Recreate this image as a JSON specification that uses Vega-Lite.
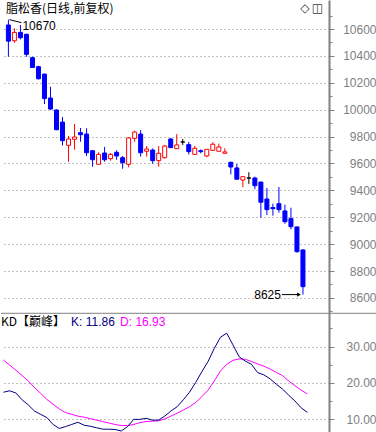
{
  "$schema": "https://vega.github.io/schema/vega-lite/v6.json",
  "padding": 0,
  "background": "#ffffff",
  "config": {"view": {"stroke": null}, "font": "Liberation Sans"},
  "spacing": 0,
  "bounds": "flush",
  "datasets": {
    "k": [
      {"i":0,"o":10630,"h":10670,"l":10395,"c":10510,"k":17.4,"d":26.3},
      {"i":1,"o":10513,"h":10605,"l":10498,"c":10575,"k":17.8,"d":24.9},
      {"i":2,"o":10575,"h":10630,"l":10523,"c":10535,"k":17.2,"d":23.5},
      {"i":3,"o":10561,"h":10565,"l":10394,"c":10412,"k":15.3,"d":22.0},
      {"i":4,"o":10387,"h":10394,"l":10312,"c":10314,"k":13.9,"d":20.5},
      {"i":5,"o":10320,"h":10327,"l":10225,"c":10230,"k":12.2,"d":18.7},
      {"i":6,"o":10265,"h":10268,"l":10042,"c":10083,"k":11.3,"d":17.1},
      {"i":7,"o":10087,"h":10171,"l":9998,"c":10005,"k":10.4,"d":15.4},
      {"i":8,"o":9998,"h":10002,"l":9848,"c":9851,"k":8.5,"d":14.1},
      {"i":9,"o":9908,"h":9946,"l":9735,"c":9770,"k":7.4,"d":12.8},
      {"i":10,"o":9735,"h":9804,"l":9613,"c":9782,"k":7.9,"d":11.8},
      {"i":11,"o":9780,"h":9894,"l":9703,"c":9797,"k":8.5,"d":11.3},
      {"i":12,"o":9829,"h":9864,"l":9762,"c":9814,"k":9.1,"d":10.8},
      {"i":13,"o":9819,"h":9862,"l":9656,"c":9680,"k":8.3,"d":10.5},
      {"i":14,"o":9695,"h":9697,"l":9576,"c":9628,"k":8.0,"d":10.1},
      {"i":15,"o":9594,"h":9683,"l":9594,"c":9668,"k":7.6,"d":9.7},
      {"i":16,"o":9678,"h":9723,"l":9613,"c":9628,"k":7.2,"d":9.3},
      {"i":17,"o":9636,"h":9678,"l":9621,"c":9668,"k":7.2,"d":8.9},
      {"i":18,"o":9683,"h":9698,"l":9628,"c":9656,"k":7.1,"d":8.5},
      {"i":19,"o":9643,"h":9656,"l":9561,"c":9606,"k":6.7,"d":8.2},
      {"i":20,"o":9594,"h":9797,"l":9572,"c":9790,"k":7.9,"d":8.2},
      {"i":21,"o":9787,"h":9844,"l":9762,"c":9834,"k":9.9,"d":8.5},
      {"i":22,"o":9819,"h":9849,"l":9651,"c":9680,"k":9.9,"d":9.0},
      {"i":23,"o":9691,"h":9730,"l":9651,"c":9708,"k":10.2,"d":9.3},
      {"i":24,"o":9700,"h":9712,"l":9599,"c":9621,"k":9.7,"d":9.4},
      {"i":25,"o":9621,"h":9730,"l":9576,"c":9676,"k":9.7,"d":9.5},
      {"i":26,"o":9643,"h":9738,"l":9636,"c":9730,"k":10.8,"d":10.0},
      {"i":27,"o":9782,"h":9790,"l":9718,"c":9718,"k":12.2,"d":10.8},
      {"i":28,"o":9710,"h":9819,"l":9710,"c":9738,"k":13.4,"d":11.6},
      {"i":29,"o":9760,"h":9782,"l":9738,"c":9760,"k":15.3,"d":12.5},
      {"i":30,"o":9740,"h":9760,"l":9667,"c":9688,"k":17.4,"d":13.4},
      {"i":31,"o":9668,"h":9730,"l":9668,"c":9713,"k":20.1,"d":14.6},
      {"i":32,"o":9695,"h":9705,"l":9676,"c":9688,"k":23.1,"d":16.2},
      {"i":33,"o":9656,"h":9705,"l":9646,"c":9705,"k":25.9,"d":18.0},
      {"i":34,"o":9698,"h":9758,"l":9698,"c":9743,"k":29.5,"d":20.5},
      {"i":35,"o":9691,"h":9747,"l":9691,"c":9723,"k":32.6,"d":23.3},
      {"i":36,"o":9676,"h":9713,"l":9676,"c":9686,"k":33.7,"d":25.1},
      {"i":37,"o":9609,"h":9613,"l":9520,"c":9574,"k":30.5,"d":26.2},
      {"i":38,"o":9567,"h":9598,"l":9483,"c":9483,"k":27.2,"d":26.6},
      {"i":39,"o":9477,"h":9502,"l":9423,"c":9502,"k":26.0,"d":26.5},
      {"i":40,"o":9492,"h":9535,"l":9448,"c":9492,"k":25.1,"d":25.9},
      {"i":41,"o":9492,"h":9502,"l":9408,"c":9435,"k":22.8,"d":25.2},
      {"i":42,"o":9462,"h":9464,"l":9197,"c":9312,"k":22.2,"d":24.6},
      {"i":43,"o":9336,"h":9418,"l":9217,"c":9257,"k":21.1,"d":23.8},
      {"i":44,"o":9272,"h":9301,"l":9212,"c":9264,"k":19.6,"d":22.9},
      {"i":45,"o":9301,"h":9425,"l":9234,"c":9257,"k":18.3,"d":22.0},
      {"i":46,"o":9247,"h":9294,"l":9152,"c":9167,"k":16.6,"d":20.5},
      {"i":47,"o":9190,"h":9271,"l":9111,"c":9130,"k":15.0,"d":19.2},
      {"i":48,"o":9128,"h":9130,"l":8937,"c":8944,"k":13.1,"d":18.0},
      {"i":49,"o":8957,"h":8960,"l":8625,"c":8684,"k":11.86,"d":16.93}
    ]
  },
  "vconcat": [
    {
      "width": 328,
      "height": 313,
      "data": {"name": "k"},
      "layer": [
        {
          "mark": {"type": "bar", "width": 4, "strokeWidth": 1, "opacity": 0},
          "encoding": {
            "x": {"field": "i", "type": "quantitative", "scale": {"domain": [-0.4, 52.5], "nice": false, "zero": false}, "axis": null},
            "y": {
              "field": "o", "type": "quantitative",
              "scale": {"domain": [8488, 10816], "nice": false, "zero": false},
              "axis": {
                "orient": "right", "title": null,
                "values": [8500,8600,8700,8800,8900,9000,9100,9200,9300,9400,9500,9600,9700,9800,9900,10000,10100,10200,10300,10400,10500,10600,10700],
                "tickCount": 100,
                "format": "d",
                "labelExpr": "datum.value % 200 === 0 ? datum.label : ''",
                "labelColor": "#808080", "labelFontSize": 12, "labelAlign": "right", "labelBaseline": "middle",
                "labelPadding": 42, "labelOverlap": false, "labelFlush": false,
                "domainColor": "#808080", "domainWidth": 2,
                "tickColor": "#808080",
                "tickSize": {"condition": {"test": "datum.value % 200 === 0", "value": 5}, "value": 3},
                "grid": true, "gridColor": "#808080", "gridDash": [1, 3],
                "gridOpacity": {"condition": {"test": "datum.value % 200 === 0", "value": 1}, "value": 0}
              }
            }
          }
        },
        {
          "mark": {"type": "rule", "strokeWidth": 1},
          "encoding": {
            "x": {"field": "i", "type": "quantitative"},
            "y": {"field": "l", "type": "quantitative"},
            "y2": {"field": "h"},
            "color": {"condition": [{"test": "datum.c > datum.o", "value": "#ff0000"}, {"test": "datum.c < datum.o", "value": "#0000ff"}], "value": "#000000"}
          }
        },
        {
          "mark": {"type": "bar", "width": 4, "strokeWidth": 1},
          "encoding": {
            "x": {"field": "i", "type": "quantitative"},
            "y": {"field": "o", "type": "quantitative"},
            "y2": {"field": "c"},
            "fill": {"condition": [{"test": "datum.c > datum.o", "value": "#ffffff"}, {"test": "datum.c < datum.o", "value": "#0000ff"}], "value": "#000000"},
            "stroke": {"condition": [{"test": "datum.c > datum.o", "value": "#ff0000"}, {"test": "datum.c < datum.o", "value": "#0000ff"}], "value": "#000000"}
          }
        },
        {
          "transform": [{"filter": "datum.i === 0"}],
          "mark": {"type": "text", "align": "left", "baseline": "middle", "dx": 14, "dy": 6, "fontSize": 12, "color": "#000000"},
          "encoding": {"x": {"field": "i", "type": "quantitative"}, "y": {"field": "h", "type": "quantitative"}, "text": {"field": "h", "format": "d"}}
        },
        {
          "transform": [{"filter": "datum.i === 0"}],
          "mark": {"type": "rule", "color": "#000000", "strokeWidth": 1, "xOffset": 1, "x2Offset": 13, "y2Offset": 3},
          "encoding": {"x": {"field": "i", "type": "quantitative"}, "y": {"field": "h", "type": "quantitative"}, "x2": {"field": "i"}, "y2": {"field": "h"}}
        },
        {
          "transform": [{"filter": "datum.i === 49"}],
          "mark": {"type": "text", "align": "right", "baseline": "middle", "dx": -22, "dy": 0, "fontSize": 12, "color": "#000000"},
          "encoding": {"x": {"field": "i", "type": "quantitative"}, "y": {"field": "l", "type": "quantitative"}, "text": {"field": "l", "format": "d"}}
        },
        {
          "transform": [{"filter": "datum.i === 49"}],
          "mark": {"type": "rule", "color": "#000000", "strokeWidth": 1, "xOffset": -21, "x2Offset": -3},
          "encoding": {"x": {"field": "i", "type": "quantitative"}, "y": {"field": "l", "type": "quantitative"}, "x2": {"field": "i"}, "y2": {"field": "l"}}
        },
        {
          "transform": [{"filter": "datum.i === 49"}],
          "mark": {"type": "point", "shape": "triangle-right", "filled": true, "color": "#000000", "size": 18, "xOffset": -4, "opacity": 1},
          "encoding": {"x": {"field": "i", "type": "quantitative"}, "y": {"field": "l", "type": "quantitative"}}
        },
        {
          "transform": [{"filter": "datum.i === 0"}],
          "mark": {"type": "text", "align": "left", "baseline": "middle", "font": "Noto Sans CJK SC", "fontSize": 12, "color": "#000000"},
          "encoding": {"x": {"datum": -0.4, "type": "quantitative"}, "y": {"datum": 10752, "type": "quantitative"}, "text": {"value": "脂松香(日线,前复权)"}}
        },
        {
          "transform": [{"filter": "datum.i === 0"}],
          "mark": {"type": "text", "align": "center", "baseline": "middle", "font": "DejaVu Sans", "fontSize": 12, "color": "#404040"},
          "encoding": {"x": {"datum": 49.3, "type": "quantitative"}, "y": {"datum": 10756, "type": "quantitative"}, "text": {"value": "◇"}}
        },
        {
          "transform": [{"filter": "datum.i === 0"}],
          "mark": {"type": "text", "align": "center", "baseline": "middle", "font": "DejaVu Sans", "fontSize": 12, "color": "#404040"},
          "encoding": {"x": {"datum": 51.4, "type": "quantitative"}, "y": {"datum": 10756, "type": "quantitative"}, "text": {"value": "◫"}}
        }
      ]
    },
    {
      "width": 328,
      "height": 119,
      "data": {"name": "k"},
      "layer": [
        {
          "mark": {"type": "line", "color": "#ff00ff", "strokeWidth": 1},
          "encoding": {
            "x": {"field": "i", "type": "quantitative", "scale": {"domain": [-0.4, 52.5], "nice": false, "zero": false}, "axis": null},
            "y": {
              "field": "d", "type": "quantitative",
              "scale": {"domain": [6.42, 39.28], "nice": false, "zero": false},
              "axis": {
                "orient": "right", "title": null,
                "values": [10, 15, 20, 25, 30, 35],
                "tickCount": 100,
                "format": ".2f",
                "labelExpr": "datum.value % 10 === 0 ? datum.label : ''",
                "labelColor": "#808080", "labelFontSize": 12, "labelAlign": "right", "labelBaseline": "middle",
                "labelPadding": 42, "labelOverlap": false, "labelFlush": false,
                "domainColor": "#808080", "domainWidth": 2,
                "tickColor": "#808080",
                "tickSize": {"condition": {"test": "datum.value % 10 === 0", "value": 5}, "value": 3},
                "grid": true, "gridColor": "#808080", "gridDash": [1, 3],
                "gridOpacity": {"condition": {"test": "datum.value % 10 === 0", "value": 1}, "value": 0}
              }
            }
          }
        },
        {
          "mark": {"type": "line", "color": "#000080", "strokeWidth": 1},
          "encoding": {"x": {"field": "i", "type": "quantitative"}, "y": {"field": "k", "type": "quantitative"}}
        },
        {
          "transform": [{"filter": "datum.i === 0"}],
          "mark": {"type": "rule", "color": "#808080", "strokeWidth": 1, "clip": false},
          "encoding": {"x": {"datum": -0.4, "type": "quantitative"}, "x2": {"datum": 60.3}, "y": {"datum": 39.2, "type": "quantitative"}}
        },
        {
          "transform": [{"filter": "datum.i === 0"}],
          "mark": {"type": "text", "align": "left", "baseline": "middle", "font": "Noto Sans CJK SC", "fontSize": 12, "color": "#000000"},
          "encoding": {"x": {"datum": -0.4, "type": "quantitative"}, "y": {"datum": 36.9, "type": "quantitative"}, "text": {"value": "KD【巅峰】"}}
        },
        {
          "transform": [{"filter": "datum.i === 0"}],
          "mark": {"type": "text", "align": "left", "baseline": "middle", "fontSize": 12, "color": "#000080"},
          "encoding": {"x": {"datum": 10.9, "type": "quantitative"}, "y": {"datum": 36.9, "type": "quantitative"}, "text": {"value": "K: 11.86"}}
        },
        {
          "transform": [{"filter": "datum.i === 0"}],
          "mark": {"type": "text", "align": "left", "baseline": "middle", "fontSize": 12, "color": "#ff00ff"},
          "encoding": {"x": {"datum": 18.8, "type": "quantitative"}, "y": {"datum": 36.9, "type": "quantitative"}, "text": {"value": "D: 16.93"}}
        }
      ]
    }
  ]
}
